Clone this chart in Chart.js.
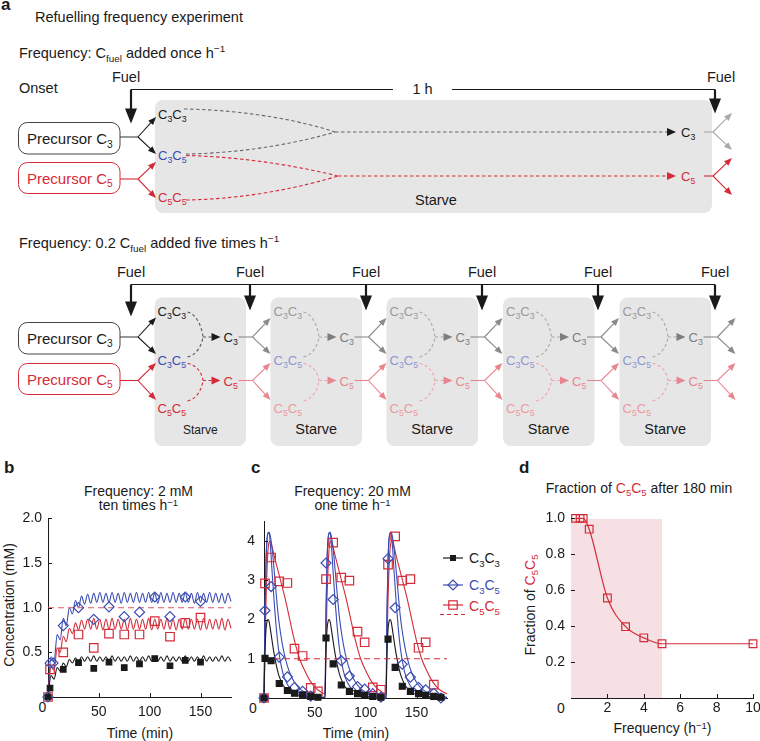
<!DOCTYPE html>
<html>
<head>
<meta charset="utf-8">
<script src="https://cdn.jsdelivr.net/npm/chart.js@4.4.1/dist/chart.umd.min.js"></script>
<style>
  html, body { margin: 0; padding: 0; background: #fff; overflow: hidden; }
  body { width: 760px; height: 741px; position: relative; font-family: "Liberation Sans", Arial, sans-serif; color: #1a1a1a; }
  .t { position: absolute; white-space: nowrap; line-height: 1; }
  canvas { position: absolute; }
  sub { font-size: 0.68em; vertical-align: -0.28em; line-height: 0; }
  sup { font-size: 0.68em; vertical-align: 0.45em; line-height: 0; }
  .red { color: #d42b39; }
</style>
</head>
<body>
<div id="schema"></div>
<script>
// ---- data: panel b (2 mM ten times per hour) ----
const bSampleT = [0, 2, 5, 15, 30, 45, 60, 75, 90, 105, 120, 135, 150];
const bC3C3 = [0, 0.10, null, 0.31, 0.385, 0.32, 0.39, 0.33, 0.37, 0.43, 0.35, 0.41, 0.39];
const bC3C5 = [0, 0.38, 0.38, 0.80, 1.00, 0.87, 1.01, 0.90, 0.95, 1.12, 0.90, 1.12, 1.07];
const bC5C5 = [0, 0.31, null, 0.50, 0.70, 0.55, 0.71, 0.70, 0.70, 0.85, 0.675, 0.83, 0.89];

const bModelT = [0, 3, 6, 9, 12, 15, 18, 21, 24, 27, 30, 33, 36, 39, 42, 45, 48, 51, 54, 57, 60,
  63, 66, 69, 72, 75, 78, 81, 84, 87, 90, 93, 96, 99, 102, 105, 108, 111, 114, 117, 120,
  123, 126, 129, 132, 135, 138, 141, 144, 147, 150, 153, 156, 159, 162, 165, 168, 171, 174, 177, 180];
const bModelC3C3 = [0, 0.24, 0.20, 0.33, 0.29, 0.38, 0.34, 0.42, 0.38, 0.44, 0.39, 0.45, 0.40, 0.45, 0.40, 0.46, 0.40, 0.45, 0.40, 0.45, 0.40,
  0.46, 0.40, 0.45, 0.40, 0.45, 0.40, 0.46, 0.40, 0.45, 0.40, 0.45, 0.40, 0.46, 0.40, 0.45, 0.40, 0.45, 0.40, 0.46, 0.40,
  0.45, 0.40, 0.45, 0.40, 0.46, 0.40, 0.45, 0.40, 0.45, 0.40, 0.46, 0.40, 0.45, 0.40, 0.45, 0.40, 0.46, 0.40, 0.45, 0.40];
const bModelC3C5 = [0, 0.45, 0.40, 0.70, 0.64, 0.88, 0.80, 1.00, 0.93, 1.08, 1.00, 1.13, 1.04, 1.15, 1.05, 1.16, 1.06, 1.17, 1.06, 1.16, 1.06,
  1.17, 1.06, 1.16, 1.05, 1.17, 1.06, 1.16, 1.06, 1.17, 1.06, 1.16, 1.06, 1.17, 1.06, 1.16, 1.05, 1.17, 1.06, 1.16, 1.06,
  1.17, 1.06, 1.16, 1.06, 1.17, 1.06, 1.16, 1.05, 1.17, 1.06, 1.16, 1.06, 1.17, 1.06, 1.16, 1.06, 1.16, 1.05, 1.16, 1.07];
const bModelC5C5 = [0, 0.34, 0.30, 0.55, 0.50, 0.68, 0.62, 0.77, 0.71, 0.83, 0.75, 0.86, 0.76, 0.87, 0.76, 0.88, 0.76, 0.87, 0.75, 0.87, 0.76,
  0.88, 0.76, 0.87, 0.76, 0.87, 0.75, 0.88, 0.76, 0.87, 0.76, 0.87, 0.76, 0.88, 0.75, 0.87, 0.76, 0.87, 0.76, 0.88, 0.76,
  0.87, 0.75, 0.87, 0.76, 0.88, 0.76, 0.87, 0.76, 0.87, 0.75, 0.88, 0.76, 0.87, 0.76, 0.87, 0.76, 0.88, 0.75, 0.87, 0.77];
const bRefLevel = [1, 1];
const bRefT = [0, 180];
const bXTicks = [50, 100, 150];
const bYTicks = [0.5, 1.0, 1.5, 2.0];

// ---- data: panel c (20 mM one time per hour) ----
const cSampleT = [0, 1, 7, 15, 23, 30, 38, 46, 53, 61, 68, 76, 84, 92, 99, 107, 115, 122, 129, 136, 144, 152, 159, 167, 174];
const cC3C3 = [0, 1.01, 0.95, 0.37, 0.19, 0.12, 0.08, 0.04, 0.02, 1.53, 0.87, 0.33, 0.17, 0.11, 0.07, 0.04, 0.02, 1.50, 0.78, 0.30, 0.17, 0.11, 0.07, 0.04, 0.02];
const cC3C5 = [0, 2.23, 2.84, 1.04, 0.54, 0.27, 0.17, 0.05, null, 3.44, 2.51, 0.95, 0.56, 0.29, 0.23, 0.11, 0.02, 3.55, 2.30, 0.86, 0.53, 0.27, 0.21, 0.12, 0];
const cC5C5 = [0, 2.92, 3.58, 2.97, 2.93, 1.26, 1.07, 0.26, 0.17, 3.03, 3.96, 3.07, 2.99, 1.69, 1.42, 0.27, 0.21, 3.40, 4.12, 2.99, 3.03, 1.28, 1.42, 0.34, null];

const cModelT = [0, 1, 2, 3, 4, 5, 6, 8, 10, 12, 14, 16, 18, 20, 23, 26, 30, 35, 40, 45, 50, 55, 59.5,
  60, 61, 62, 63, 64, 65, 66, 68, 70, 72, 74, 76, 78, 80, 83, 86, 90, 95, 100, 105, 110, 115, 119.5,
  120, 121, 122, 123, 124, 125, 126, 128, 130, 132, 134, 136, 138, 140, 143, 146, 150, 155, 160, 165, 170, 175, 180];
const cModelC3C3 = [0, 1.2, 1.75, 1.95, 2.0, 1.95, 1.8, 1.45, 1.12, 0.85, 0.63, 0.48, 0.36, 0.28, 0.19, 0.13, 0.08, 0.05, 0.03, 0.02, 0.01, 0.01, 0,
  0, 1.2, 1.75, 1.95, 2.0, 1.95, 1.8, 1.45, 1.12, 0.85, 0.63, 0.48, 0.36, 0.28, 0.19, 0.13, 0.08, 0.05, 0.03, 0.02, 0.01, 0.01, 0,
  0, 1.2, 1.75, 1.95, 2.0, 1.95, 1.8, 1.45, 1.12, 0.85, 0.63, 0.48, 0.36, 0.28, 0.19, 0.13, 0.08, 0.05, 0.03, 0.02, 0.01, 0.01, 0];
const cModelC3C5a = [0, 2.2, 3.5, 4.05, 4.2, 4.22, 4.0, 3.2, 2.45, 1.8, 1.3, 0.95, 0.7, 0.52, 0.35, 0.24, 0.15, 0.09, 0.05, 0.03, 0.02, 0.01, 0.01,
  0.01, 2.2, 3.5, 4.05, 4.2, 4.22, 4.0, 3.2, 2.45, 1.8, 1.3, 0.95, 0.7, 0.52, 0.35, 0.24, 0.15, 0.09, 0.05, 0.03, 0.02, 0.01, 0.01,
  0.01, 2.2, 3.5, 4.05, 4.2, 4.22, 4.0, 3.2, 2.45, 1.8, 1.3, 0.95, 0.7, 0.52, 0.35, 0.24, 0.15, 0.09, 0.05, 0.03, 0.02, 0.01, 0.01];
const cModelC3C5b = [0, 2.2, 3.5, 4.05, 4.2, 4.22, 4.15, 3.8, 3.25, 2.65, 2.1, 1.7, 1.38, 1.12, 0.82, 0.6, 0.4, 0.24, 0.15, 0.09, 0.05, 0.03, 0.02,
  0.02, 2.2, 3.5, 4.05, 4.2, 4.22, 4.15, 3.8, 3.25, 2.65, 2.1, 1.7, 1.38, 1.12, 0.82, 0.6, 0.4, 0.24, 0.15, 0.09, 0.05, 0.03, 0.02,
  0.02, 2.2, 3.5, 4.05, 4.2, 4.22, 4.15, 3.8, 3.25, 2.65, 2.1, 1.7, 1.38, 1.12, 0.82, 0.6, 0.4, 0.24, 0.15, 0.09, 0.05, 0.03, 0.02];
const cModelC5C5 = [0, 1.3, 2.5, 3.3, 3.8, 3.97, 4.0, 3.85, 3.62, 3.42, 3.22, 3.02, 2.82, 2.62, 2.28, 1.92, 1.46, 1.0, 0.7, 0.45, 0.28, 0.17, 0.11,
  0.11, 1.4, 2.55, 3.3, 3.8, 3.97, 4.0, 3.85, 3.62, 3.42, 3.22, 3.02, 2.82, 2.62, 2.28, 1.92, 1.46, 1.0, 0.7, 0.45, 0.28, 0.17, 0.11,
  0.11, 1.4, 2.55, 3.3, 3.8, 3.97, 4.0, 3.85, 3.62, 3.42, 3.22, 3.02, 2.82, 2.62, 2.28, 1.92, 1.46, 1.0, 0.7, 0.45, 0.28, 0.17, 0.11];
const cRefLevel = [1, 1];
const cRefT = [0, 180];
const cXTicks = [50, 100, 150];
const cYTicks = [1, 2, 3, 4];

// ---- data: panel d ----
const dFreq = [0.25, 0.5, 0.67, 1, 2, 3, 4, 5, 10];
const dFrac = [1.0, 1.0, 1.0, 0.94, 0.557, 0.397, 0.335, 0.302, 0.302];
const dShadeX = [0, 5];
const dShadeY = [1, 1];
const dXTicks = [2, 4, 6, 8, 10];
const dYTicks = [0.2, 0.4, 0.6, 0.8, 1.0];

const INK = '#1a1a1a', BLUE = '#3b4cb3', RED = '#d42b39';
const FONT = '"Liberation Sans", Arial, sans-serif';

// ---------- schematic (panel a) + legend as svg ----------
const S = [];
function rich(str, fs) {
  const small = Math.round(fs * 0.68 * 10) / 10;
  const re = /([_^])(\{[^}]*\}|.)|([^_^]+)/g;
  let out = '', off = 0, m;
  while ((m = re.exec(str))) {
    if (m[3]) { out += `<tspan dy="${-off}">${m[3]}</tspan>`; off = 0; }
    else {
      let s = m[2]; if (s[0] === '{') s = s.slice(1, -1);
      const target = m[1] === '_' ? fs * 0.25 : -fs * 0.4;
      out += `<tspan dy="${target - off}" font-size="${small}">${s}</tspan>`; off = target;
    }
  }
  return out;
}
function txt(x, y, s, fs, col, anchor, weight) {
  S.push(`<text x="${x}" y="${y}" font-size="${fs}" fill="${col || INK}"${anchor ? ` text-anchor="${anchor}"` : ''}${weight ? ` font-weight="${weight}"` : ''}>${rich(s, fs)}</text>`);
}
function line(x1, y1, x2, y2, c, w, dash) {
  S.push(`<line x1="${x1}" y1="${y1}" x2="${x2}" y2="${y2}" stroke="${c}" stroke-width="${w}"${dash ? ` stroke-dasharray="${dash}"` : ''}/>`);
}
function path(d, c, w, dash) {
  S.push(`<path d="${d}" fill="none" stroke="${c}" stroke-width="${w}"${dash ? ` stroke-dasharray="${dash}"` : ''}/>`);
}
function head(x1, y1, x2, y2, c, len, wid) {
  const a = Math.atan2(y2 - y1, x2 - x1);
  const bx = x2 - len * Math.cos(a), by = y2 - len * Math.sin(a);
  const px = -Math.sin(a) * wid / 2, py = Math.cos(a) * wid / 2;
  S.push(`<polygon points="${x2},${y2} ${bx + px},${by + py} ${bx - px},${by - py}" fill="${c}"/>`);
}
function arrow(x1, y1, x2, y2, c, w, len, wid) {
  const a = Math.atan2(y2 - y1, x2 - x1);
  line(x1, y1, x2 - len * 0.7 * Math.cos(a), y2 - len * 0.7 * Math.sin(a), c, w);
  head(x1, y1, x2, y2, c, len, wid);
}
function box(x, y, w, h, r, fill, stroke) {
  S.push(`<rect x="${x}" y="${y}" width="${w}" height="${h}" rx="${r}" fill="${fill}"${stroke ? ` stroke="${stroke}" stroke-width="1"` : ''}/>`);
}
function fork(x0, x1, y, tipX, yUp, yDn, c, hc) {
  line(x0, y, x1, y, c, 1.1);
  arrow(x1, y, tipX, yUp, hc || c, 1.1, 8, 6.5);
  arrow(x1, y, tipX, yDn, hc || c, 1.1, 8, 6.5);
}

txt(1, 10, 'a', 17, INK, null, 'bold');
txt(35, 22, 'Refuelling frequency experiment', 14.5);
txt(19, 58, 'Frequency: C_{fuel} added once h^{−1}', 14.5);
txt(19, 93, 'Onset', 14.5);

// top scheme
box(155, 100, 557, 113, 8, '#e6e6e6');
txt(126, 82, 'Fuel', 14.5, INK, 'middle');
txt(721, 82, 'Fuel', 14.5, INK, 'middle');
line(131, 89.5, 393, 89.5, INK, 1.2);
line(452, 89.5, 715, 89.5, INK, 1.2);
txt(422.5, 94, '1 h', 14.5, INK, 'middle');
arrow(131, 89.5, 131, 123.5, INK, 2.2, 15, 12);
arrow(715, 89.5, 715, 113.5, INK, 2.2, 15, 12);
box(18.5, 122.5, 101.5, 31.5, 9, '#fff', '#444');
box(18.5, 162.5, 101.5, 31, 9, '#fff', RED);
txt(27, 144, 'Precursor C_3', 15, INK);
txt(27, 183.5, 'Precursor C_5', 15, RED);
fork(120, 138, 137, 156, 117, 154, '#444', INK);
fork(120, 138, 179, 156, 162, 198, RED);
txt(158, 118.5, 'C_3C_3', 13, INK);
txt(158, 160, 'C_3C_5', 13, BLUE);
txt(158, 202, 'C_5C_5', 13, RED);
path('M184,109 C250,110 305,122 335,132', '#666', 1.1, '3.5,2.5');
path('M186,154 C250,153 305,141 335,132', '#666', 1.1, '3.5,2.5');
line(335, 132, 668, 132, '#666', 1.1, '3.5,2.5');
head(660, 132, 676, 132, INK, 9, 8);
path('M186,155.5 C250,157 305,168 338,176', RED, 1.1, '3.5,2.5');
path('M186,200 C250,199 305,186 338,176', RED, 1.1, '3.5,2.5');
line(338, 176, 668, 176, RED, 1.1, '3.5,2.5');
head(660, 176, 676, 176, RED, 9, 8);
txt(681, 137, 'C_3', 13, INK);
txt(681, 181, 'C_5', 13, RED);
fork(704, 713, 132, 732, 113, 150, '#aaa');
fork(704, 713, 176, 732, 158, 195, RED);
txt(436, 205, 'Starve', 14.5, INK, 'middle');

// bottom scheme
txt(19, 248, 'Frequency: 0.2 C_{fuel} added five times h^{−1}', 14.5);
const boxL = [154.5, 270.5, 386.5, 503, 619.5];
boxL.forEach(L => box(L, 297.5, 91.5, 148.5, 8, '#e6e6e6'));
const fuelX = [131, 250, 366, 482, 598, 715];
line(131, 284.5, 715, 284.5, INK, 1.2);
fuelX.forEach((x, i) => {
  txt(x, 277, 'Fuel', 14.5, INK, 'middle');
  arrow(x, 284.5, x, i === 0 ? 316.5 : 310.5, INK, 2.2, 15, 12);
});
box(18.5, 322.5, 101.5, 31.5, 9, '#fff', '#444');
box(18.5, 363.5, 101.5, 31, 9, '#fff', RED);
txt(27, 343.5, 'Precursor C_3', 15, INK);
txt(27, 384.5, 'Precursor C_5', 15, RED);
fork(120, 138, 337, 156, 317.5, 354, '#444', INK);
fork(120, 138, 380.5, 156, 363, 400, RED);
boxL.forEach((L, i) => {
  const f = i > 0;
  const c33 = f ? '#9a9a9a' : INK, c35 = f ? '#8d97d3' : BLUE, c55 = f ? '#ec9aa1' : RED;
  const dg = f ? '#a8a8a8' : '#555', dr = f ? '#efa3a9' : RED;
  const hg = f ? '#7d7d7d' : INK, hr = f ? '#e68790' : RED;
  txt(L + 3, 316, 'C_3C_3', 13, c33);
  txt(L + 3, 365, 'C_3C_5', 13, c35);
  txt(L + 3, 413, 'C_5C_5', 13, c55);
  path(`M${L + 33},312 C${L + 42},314 ${L + 47},326 ${L + 48.5},336.5`, dg, 1.1, '3,2.5');
  path(`M${L + 33},357 C${L + 42},355 ${L + 47},346 ${L + 48.5},337`, dg, 1.1, '3,2.5');
  line(L + 48.5, 337, L + 60, 337, dg, 1.1, '3,2.5');
  head(L + 56, 337, L + 66, 337, hg, 9, 8);
  path(`M${L + 33},363.5 C${L + 42},365 ${L + 47},372 ${L + 48.5},380.5`, dr, 1.1, '3,2.5');
  path(`M${L + 33},401 C${L + 42},399 ${L + 47},390 ${L + 48.5},381`, dr, 1.1, '3,2.5');
  line(L + 48.5, 380.5, L + 60, 380.5, dr, 1.1, '3,2.5');
  head(L + 56, 380.5, L + 66, 380.5, hr, 9, 8);
  txt(L + 69, 341.5, 'C_3', 13, f ? '#7d7d7d' : INK);
  txt(L + 69, 385.5, 'C_5', 13, f ? '#e68790' : RED);
  fork(L + 84, L + 98, 337, L + 116, 318, 354, '#8a8a8a');
  fork(L + 84, L + 98, 380.5, L + 116, 363, 400, '#e8868f');
  txt(L + 45.75, 434, 'Starve', i === 0 ? 12 : 14.5, INK, 'middle');
});

// legend of panel c
line(443, 558, 463, 558, INK, 1.2);
S.push(`<rect x="450" y="555" width="6" height="6" fill="${INK}"/>`);
txt(469, 563, 'C_3C_3', 14, INK);
line(443, 585, 463, 585, BLUE, 1.2);
S.push(`<polygon points="453,580 458,585 453,590 448,585" fill="none" stroke="${BLUE}" stroke-width="1.2"/>`);
txt(469, 590, 'C_3C_5', 14, BLUE);
line(443, 605, 463, 605, RED, 1.2);
S.push(`<rect x="448.8" y="600.8" width="8.4" height="8.4" fill="none" stroke="${RED}" stroke-width="1.2"/>`);
txt(469, 611, 'C_5C_5', 14, RED);
line(440, 614.5, 466, 614.5, RED, 1.2, '4,3');

document.getElementById('schema').innerHTML =
  `<svg width="760" height="741" style="position:absolute;left:0;top:0;font-family:${FONT.replace(/"/g, "'")};white-space:pre">${S.join('')}</svg>`;

// ---------- html text ----------
function put(html, x, base, fs, align, extra) {
  const d = document.createElement('div');
  d.className = 't';
  d.innerHTML = html;
  d.style.fontSize = fs + 'px';
  d.style.top = (base - 0.8465 * fs) + 'px';
  d.style.left = x + 'px';
  if (align === 'center') d.style.transform = 'translateX(-50%)';
  if (extra) Object.assign(d.style, extra);
  document.body.appendChild(d);
  return d;
}
function putRot(html, cx, cy, fs) {
  const d = document.createElement('div');
  d.className = 't';
  d.innerHTML = html;
  d.style.fontSize = fs + 'px';
  d.style.left = cx + 'px';
  d.style.top = cy + 'px';
  d.style.transform = 'translate(-50%,-50%) rotate(-90deg)';
  document.body.appendChild(d);
}
put('b', 4, 473, 17, null, { fontWeight: 'bold' });
put('c', 251, 473, 17, null, { fontWeight: 'bold' });
put('d', 519, 473, 17, null, { fontWeight: 'bold' });
put('Frequency: 2 mM', 138.5, 496, 14, 'center');
put('ten times h<sup>−1</sup>', 138.5, 509.5, 14, 'center');
put('Frequency: 20 mM', 352.5, 496, 14, 'center');
put('one time h<sup>−1</sup>', 352.5, 509.5, 14, 'center');
put('Fraction of <span class="red">C<sub>5</sub>C<sub>5</sub></span> after 180 min', 639, 493, 14, 'center');
put('Time (min)', 140, 738, 14, 'center');
put('Time (min)', 356, 738, 14, 'center');
put('Frequency (h<sup>−1</sup>)', 662.5, 733, 14, 'center');
put('0', 42.3, 712, 14, 'center');
put('0', 253, 712.5, 14, 'center');
put('0', 561, 713, 14, 'center');
putRot('Concentration (mM)', 9, 605, 14);
putRot('Fraction of <span class="red">C<sub>5</sub>C<sub>5</sub></span>', 530, 605, 14);

// ---------- charts ----------
Chart.defaults.font.family = FONT;
Chart.defaults.font.size = 14;
Chart.defaults.color = INK;

const innerTicks = {
  id: 'innerTicks',
  afterDraw(chart) {
    const { ctx, chartArea: a, scales: { x, y } } = chart;
    ctx.save();
    ctx.strokeStyle = INK; ctx.lineWidth = 1;
    ctx.beginPath();
    x.ticks.forEach(t => { const px = Math.round(x.getPixelForValue(t.value)) + 0.5; ctx.moveTo(px, a.bottom); ctx.lineTo(px, a.bottom - 4); });
    y.ticks.forEach(t => { const py = Math.round(y.getPixelForValue(t.value)) + 0.5; ctx.moveTo(a.left, py); ctx.lineTo(a.left + 4, py); });
    ctx.stroke();
    ctx.restore();
  }
};

const pts = (xs, ys) => xs.map((x, i) => ({ x, y: ys[i] }));
const curve = (xs, ys, color, extra) => Object.assign({
  data: pts(xs, ys), borderColor: color, borderWidth: 1.1, pointRadius: 0,
  showLine: true, fill: false, cubicInterpolationMode: 'monotone', clip: false
}, extra || {});
const marks = (xs, ys, style, r, color, filled) => ({
  data: pts(xs, ys), showLine: false, pointStyle: style, pointRadius: r,
  pointBorderColor: color, pointBackgroundColor: filled ? color : 'rgba(0,0,0,0)',
  pointBorderWidth: 1.2, clip: false
});

function makeChart(area, xs, ys, datasets) {
  const YW = 40, XH = 30, PT = 12, PR = 10;
  const cv = document.createElement('canvas');
  const left = area.l - YW, top = area.t - PT;
  const w = area.r - left + PR, h = area.b - top + XH;
  cv.width = w; cv.height = h;
  Object.assign(cv.style, { left: left + 'px', top: top + 'px', width: w + 'px', height: h + 'px' });
  document.body.appendChild(cv);
  return new Chart(cv, {
    type: 'line',
    data: { datasets },
    options: {
      responsive: false, devicePixelRatio: 1, animation: false,
      layout: { padding: { left: 0, top: PT, right: PR, bottom: 0 } },
      plugins: { legend: { display: false }, tooltip: { enabled: false } },
      scales: {
        x: {
          type: 'linear', min: xs.min, max: xs.max,
          grid: { display: false, drawTicks: false },
          border: { color: INK, width: 1 },
          ticks: { padding: xs.pad, maxRotation: 0, autoSkip: false, callback: v => xs.fmt(v) },
          afterBuildTicks: s => { s.ticks = xs.ticks.map(v => ({ value: v })); },
          afterFit: s => { s.height = XH; }
        },
        y: {
          type: 'linear', min: ys.min, max: ys.max,
          grid: { display: false, drawTicks: false },
          border: { color: INK, width: 1 },
          ticks: { padding: ys.pad, autoSkip: false, callback: v => ys.fmt(v) },
          afterBuildTicks: s => { s.ticks = ys.ticks.map(v => ({ value: v })); },
          afterFit: s => { s.width = YW; }
        }
      }
    },
    plugins: [innerTicks]
  });
}

// panel b
makeChart({ l: 48, t: 516, r: 231, b: 697 },
  { min: 0, max: 180, ticks: bXTicks, pad: 7, fmt: v => String(v) },
  { min: 0, max: 2, ticks: bYTicks, pad: 6, fmt: v => v.toFixed(1) },
  [
    marks(bSampleT, bC3C3, 'rect', 3.9, INK, true),
    marks(bSampleT, bC3C5, 'rectRot', 5, BLUE, false),
    marks(bSampleT, bC5C5, 'rect', 6, RED, false),
    curve(bRefT, bRefLevel, '#e05562', { borderDash: [6, 4], cubicInterpolationMode: 'default', tension: 0 }),
    curve(bModelT, bModelC3C3, INK),
    curve(bModelT, bModelC5C5, RED),
    curve(bModelT, bModelC3C5, BLUE)
  ]);

// panel c
makeChart({ l: 264, t: 516, r: 447, b: 698 },
  { min: 0, max: 180, ticks: cXTicks, pad: 7, fmt: v => String(v) },
  { min: 0, max: 4.5, ticks: cYTicks, pad: 9, fmt: v => String(v) },
  [
    marks(cSampleT, cC3C3, 'rect', 4.2, INK, true),
    marks(cSampleT, cC3C5, 'rectRot', 5, BLUE, false),
    marks(cSampleT, cC5C5, 'rect', 6, RED, false),
    curve(cRefT, cRefLevel, RED, { borderDash: [6, 4], cubicInterpolationMode: 'default', tension: 0 }),
    curve(cModelT, cModelC3C3, INK),
    curve(cModelT, cModelC3C5a, BLUE),
    curve(cModelT, cModelC3C5b, BLUE),
    curve(cModelT, cModelC5C5, RED)
  ]);

// panel d
makeChart({ l: 571, t: 516, r: 753, b: 698 },
  { min: 0, max: 10, ticks: dXTicks, pad: 2, fmt: v => String(v) },
  { min: 0, max: 1, ticks: dYTicks, pad: 6, fmt: v => v.toFixed(1) },
  [
    marks(dFreq, dFrac, 'rect', 5.4, RED, false),
    curve(dFreq, dFrac, RED, { borderWidth: 1.2 }),
    { data: pts(dShadeX, dShadeY), showLine: true, borderWidth: 0, pointRadius: 0, fill: 'origin', backgroundColor: '#f6e0e3' }
  ]);
</script>
</body>
</html>
